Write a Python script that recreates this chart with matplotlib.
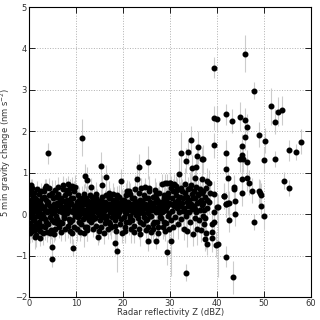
import numpy as np
from matplotlib import pyplot as plt

# dense part of the cloud, 0-38 dBZ, written band by band (1 dBZ wide)
z_dense = [
    0.1, 0.2, 0.2, 0.3, 0.3, 0.4, 0.4, 0.5, 0.5, 0.6, 0.6, 0.7, 0.7, 0.8, 0.8, 0.9, 0.9, 0.1, 0.5, 0.7,
    1.0, 1.1, 1.1, 1.2, 1.3, 1.3, 1.4, 1.5, 1.5, 1.6, 1.7, 1.7, 1.8, 1.9, 1.9, 1.2,
    2.0, 2.1, 2.2, 2.2, 2.3, 2.4, 2.5, 2.5, 2.6, 2.7, 2.8, 2.8, 2.9, 2.3, 2.6,
    3.0, 3.1, 3.2, 3.3, 3.3, 3.4, 3.5, 3.6, 3.6, 3.7, 3.8, 3.9, 3.4, 3.2,
    4.0, 4.1, 4.2, 4.3, 4.4, 4.5, 4.6, 4.7, 4.8, 4.9, 4.2, 4.5, 4.8,
    5.0, 5.1, 5.2, 5.3, 5.4, 5.5, 5.6, 5.7, 5.8, 5.9, 5.3, 5.6, 5.9,
    6.0, 6.1, 6.2, 6.3, 6.4, 6.5, 6.6, 6.7, 6.8, 6.9, 6.2, 6.5, 6.8,
    7.0, 7.1, 7.2, 7.3, 7.4, 7.5, 7.6, 7.7, 7.8, 7.9, 7.2, 7.5, 7.8,
    8.0, 8.1, 8.2, 8.3, 8.4, 8.5, 8.6, 8.7, 8.8, 8.9, 8.3, 8.6, 8.9,
    9.0, 9.1, 9.2, 9.3, 9.4, 9.5, 9.6, 9.7, 9.8, 9.9, 9.2, 9.6, 9.9,
    10.0, 10.1, 10.2, 10.3, 10.4, 10.5, 10.6, 10.7, 10.8, 10.9, 10.3, 10.6, 10.9,
    11.0, 11.1, 11.2, 11.3, 11.4, 11.5, 11.6, 11.7, 11.8, 11.9, 11.2, 11.6, 11.9,
    12.0, 12.1, 12.2, 12.3, 12.4, 12.5, 12.6, 12.7, 12.8, 12.9, 12.3, 12.6, 12.9,
    13.0, 13.1, 13.2, 13.3, 13.4, 13.5, 13.6, 13.7, 13.8, 13.9, 13.2, 13.5, 13.8,
    14.0, 14.1, 14.2, 14.3, 14.4, 14.5, 14.6, 14.7, 14.8, 14.9, 14.3, 14.6, 14.9,
    15.0, 15.1, 15.2, 15.3, 15.4, 15.5, 15.6, 15.7, 15.8, 15.9, 15.2, 15.5, 15.8,
    16.0, 16.1, 16.2, 16.3, 16.4, 16.5, 16.6, 16.7, 16.8, 16.9, 16.3, 16.6, 16.9,
    17.0, 17.1, 17.2, 17.3, 17.4, 17.5, 17.6, 17.7, 17.8, 17.9, 17.2, 17.5, 17.8,
    18.0, 18.1, 18.2, 18.3, 18.4, 18.5, 18.6, 18.7, 18.8, 18.9, 18.3, 18.6, 18.9,
    19.0, 19.1, 19.2, 19.3, 19.4, 19.5, 19.6, 19.7, 19.8, 19.9, 19.2, 19.5, 19.8,
    20.0, 20.1, 20.2, 20.3, 20.4, 20.5, 20.6, 20.7, 20.8, 20.9, 20.3, 20.6, 20.9,
    21.0, 21.1, 21.2, 21.3, 21.4, 21.5, 21.6, 21.7, 21.8, 21.9, 21.2, 21.5, 21.8,
    22.0, 22.1, 22.2, 22.3, 22.4, 22.5, 22.6, 22.7, 22.8, 22.9, 22.3, 22.6, 22.9,
    23.0, 23.1, 23.2, 23.3, 23.4, 23.5, 23.6, 23.7, 23.8, 23.9, 23.2, 23.5, 23.8,
    24.0, 24.1, 24.2, 24.3, 24.4, 24.5, 24.6, 24.7, 24.8, 24.9, 24.3, 24.6, 24.9,
    25.0, 25.1, 25.2, 25.3, 25.4, 25.5, 25.6, 25.7, 25.8, 25.9, 25.2, 25.5, 25.8,
    26.0, 26.1, 26.2, 26.3, 26.4, 26.5, 26.6, 26.7, 26.8, 26.9, 26.3, 26.6, 26.9,
    27.0, 27.1, 27.2, 27.3, 27.4, 27.5, 27.6, 27.7, 27.8, 27.9, 27.2, 27.5, 27.8,
    28.0, 28.1, 28.2, 28.3, 28.4, 28.5, 28.6, 28.7, 28.8, 28.9, 28.3, 28.6, 28.9,
    29.0, 29.1, 29.2, 29.3, 29.4, 29.5, 29.6, 29.7, 29.8, 29.9, 29.2, 29.5, 29.8,
    30.0, 30.1, 30.2, 30.4, 30.5, 30.6, 30.7, 30.8, 30.3, 30.9,
    31.0, 31.1, 31.3, 31.4, 31.5, 31.6, 31.7, 31.8, 31.9, 31.2,
    32.0, 32.1, 32.2, 32.4, 32.5, 32.6, 32.7, 32.8, 32.9, 32.3,
    33.0, 33.1, 33.2, 33.3, 33.5, 33.6, 33.7, 33.8, 33.9, 33.4,
    34.0, 34.1, 34.2, 34.3, 34.4, 34.6, 34.7, 34.8, 34.9, 34.5,
    35.0, 35.1, 35.2, 35.3, 35.5, 35.6, 35.7, 35.8, 35.9, 35.4,
    36.0, 36.1, 36.2, 36.3, 36.4, 36.6, 36.7, 36.8, 36.9, 36.5,
    37.0, 37.1, 37.2, 37.3, 37.5, 37.6, 37.7, 37.8, 37.9, 37.4,
]
g_dense = [
    -0.45, 0.12, -0.21, 0.35, 0.02, -0.33, 0.25, 0.70, -0.08, 0.45, -0.40, 0.18, 0.62, -0.15, 0.30, 0.05, -0.28, 0.22, 0.55, -0.02,
    0.52, -0.12, 0.28, -0.38, 0.08, 0.40, -0.22, 0.15, -0.50, 0.33, -0.05, 0.60, 0.20, -0.30, 0.10, -0.55,
    0.25, -0.18, 0.05, 0.48, -0.40, 0.30, -0.10, 0.15, 0.55, -0.28, 0.38, 0.00, -0.45, -0.58, 0.22,
    -0.05, 0.42, 0.18, -0.32, 0.62, 0.10, -0.20, 0.35, 0.68, -0.42, 0.05, 0.25, -0.12, 0.55,
    0.30, -0.25, 0.08, 0.45, -0.08, 0.20, -0.38, 0.12, 0.52, -0.15, 0.62, -0.45, 0.02,
    0.10, 0.38, -0.20, 0.05, 0.25, -0.35, 0.15, -0.05, 0.42, 0.28, -0.48, 0.58, -0.22,
    -0.12, 0.22, 0.48, -0.30, 0.08, 0.35, -0.18, 0.15, -0.42, 0.05, 0.65, 0.28, 0.40,
    0.18, -0.22, 0.05, 0.60, 0.32, -0.10, 0.45, -0.35, 0.12, 0.25, 0.70, -0.05, 0.58,
    0.02, 0.35, -0.28, 0.15, 0.52, -0.12, 0.25, 0.62, -0.40, 0.08, 0.72, -0.20, 0.40,
    0.28, -0.15, 0.68, 0.05, 0.40, -0.30, 0.18, 0.65, -0.05, 0.22, -0.45, 0.55, 0.10,
    0.12, -0.35, 0.30, -0.08, 0.20, 0.05, -0.20, 0.35, 0.15, -0.42, 0.45, -0.02, 0.25,
    -0.25, 0.18, 0.02, 0.40, -0.12, 0.28, -0.45, 0.10, 0.32, -0.05, 0.22, 0.48, -0.30,
    0.25, -0.08, 0.38, 0.05, -0.30, 0.15, 0.32, -0.15, 0.08, 0.45, -0.38, 0.20, -0.02,
    0.05, 0.30, -0.20, 0.12, 0.42, -0.05, 0.22, -0.35, 0.18, 0.08, 0.65, -0.12, 0.35,
    -0.10, 0.22, 0.40, -0.28, 0.08, 0.30, -0.55, 0.15, -0.02, 0.25, 0.48, 0.02, -0.40,
    0.18, -0.15, 0.05, 0.35, -0.30, 0.20, 0.70, -0.08, 0.28, -0.45, 0.10, 0.42, 0.00,
    0.08, 0.30, -0.22, 0.15, 0.45, -0.05, 0.22, -0.35, 0.12, 0.38, -0.12, 0.25, 0.50,
    0.25, -0.18, 0.05, 0.40, -0.32, 0.18, 0.10, -0.08, 0.30, 0.48, -0.25, 0.15, 0.02,
    0.12, 0.35, -0.15, 0.22, -0.40, 0.05, 0.28, 0.45, -0.05, 0.18, -0.28, 0.38, 0.10,
    -0.02, 0.20, 0.42, -0.25, 0.10, 0.30, -0.12, 0.15, -0.45, 0.25, 0.05, 0.80, 0.35,
    0.22, -0.08, 0.35, 0.05, -0.30, 0.18, 0.45, -0.18, 0.12, 0.28, -0.40, 0.02, 0.55,
    0.10, 0.30, -0.20, 0.15, 0.48, -0.05, 0.22, -0.35, 0.08, 0.38, 0.55, -0.12, 0.25,
    -0.15, 0.18, 0.05, 0.40, -0.28, 0.25, 0.60, -0.02, 0.12, 0.85, -0.42, 0.32, 0.08,
    0.28, -0.10, 0.15, 0.50, -0.35, 0.05, 0.35, -0.20, 0.22, 0.62, 0.00, -0.48, 0.18,
    0.05, 0.32, -0.25, 0.12, 0.45, -0.08, 0.25, 0.65, -0.38, 0.18, 0.02, 0.40, -0.15,
    0.20, -0.12, 0.38, 0.02, -0.30, 0.15, 0.55, -0.05, 0.28, -0.42, 0.10, 0.62, 0.30,
    -0.05, 0.25, 0.10, -0.35, 0.42, 0.18, -0.18, 0.30, 0.58, 0.05, -0.25, 0.15, 0.48,
    0.15, 0.40, -0.20, 0.08, 0.30, -0.45, 0.22, 0.52, -0.08, 0.12, 0.35, -0.30, 0.02,
    0.30, -0.10, 0.20, 0.72, -0.32, 0.08, 0.45, -0.18, 0.25, 0.74, 0.05, 0.38, -0.40,
    0.10, 0.35, -0.22, 0.76, 0.20, -0.05, 0.50, 0.28, -0.35, 0.74, 0.15, 0.42, 0.02,
    0.75, 0.25, -0.15, 0.40, 0.08, 0.55, -0.30, 0.20, 0.62, 0.72,
    0.30, -0.08, 0.45, 0.15, 0.58, -0.25, 0.35, 0.05, 0.22, 0.68,
    0.96, 0.20, 0.42, -0.12, 0.55, 0.28, 0.08, 0.38, -0.35, 0.62,
    0.15, 0.50, 0.72, -0.05, 0.30, 0.42, -0.40, 0.20, 0.60, 0.05,
    0.35, 0.05, 0.62, -0.20, 0.25, 0.48, 0.12, -0.48, 0.40, 0.70,
    0.20, 0.55, -0.10, 0.38, 0.05, 0.65, -0.35, 0.28, 0.45, 0.12,
    0.48, -0.15, 0.30, 0.60, 0.10, -0.38, 0.22, 0.52, -0.05, 0.35,
    0.28, 0.55, -0.25, 0.10, 0.42, 0.62, -0.45, 0.15, 0.35, -0.10,
]
e_dense = [
    0.25, 0.20, 0.30, 0.22, 0.18, 0.28, 0.20, 0.15, 0.30, 0.25, 0.27, 0.20, 0.22, 0.30, 0.18, 0.25, 0.30, 0.20, 0.25, 0.28,
    0.20, 0.28, 0.22, 0.30, 0.20, 0.25, 0.28, 0.20, 0.30, 0.22, 0.25, 0.20, 0.28, 0.25, 0.20, 0.30,
    0.22, 0.25, 0.30, 0.20, 0.28, 0.22, 0.25, 0.30, 0.20, 0.25, 0.22, 0.28, 0.30, 0.20, 0.25,
    0.25, 0.20, 0.28, 0.30, 0.22, 0.25, 0.30, 0.20, 0.18, 0.25, 0.28, 0.22, 0.30, 0.20,
    0.22, 0.30, 0.25, 0.20, 0.28, 0.35, 0.22, 0.25, 0.30, 0.20, 0.25, 0.28, 0.22,
    0.28, 0.22, 0.30, 0.25, 0.20, 0.28, 0.35, 0.22, 0.25, 0.30, 0.20, 0.25, 0.28,
    0.25, 0.30, 0.22, 0.28, 0.20, 0.25, 0.30, 0.35, 0.22, 0.28, 0.25, 0.20, 0.30,
    0.30, 0.25, 0.20, 0.28, 0.22, 0.35, 0.25, 0.30, 0.20, 0.28, 0.22, 0.25, 0.30,
    0.22, 0.28, 0.30, 0.25, 0.20, 0.28, 0.35, 0.22, 0.30, 0.25, 0.20, 0.28, 0.25,
    0.28, 0.25, 0.22, 0.30, 0.28, 0.20, 0.25, 0.30, 0.35, 0.22, 0.28, 0.25, 0.20,
    0.25, 0.30, 0.28, 0.22, 0.35, 0.25, 0.20, 0.30, 0.28, 0.22, 0.25, 0.30, 0.28,
    0.30, 0.22, 0.25, 0.28, 0.20, 0.30, 0.35, 0.25, 0.22, 0.28, 0.30, 0.25, 0.22,
    0.22, 0.28, 0.30, 0.25, 0.35, 0.20, 0.28, 0.25, 0.30, 0.22, 0.28, 0.25, 0.30,
    0.28, 0.25, 0.22, 0.30, 0.28, 0.35, 0.25, 0.20, 0.28, 0.30, 0.22, 0.25, 0.28,
    0.25, 0.30, 0.28, 0.22, 0.25, 0.30, 0.20, 0.35, 0.28, 0.25, 0.30, 0.22, 0.28,
    0.30, 0.22, 0.28, 0.25, 0.30, 0.20, 0.25, 0.35, 0.22, 0.28, 0.25, 0.30, 0.28,
    0.22, 0.28, 0.25, 0.30, 0.22, 0.28, 0.35, 0.25, 0.30, 0.22, 0.28, 0.25, 0.30,
    0.28, 0.25, 0.30, 0.22, 0.28, 0.25, 0.30, 0.35, 0.20, 0.28, 0.25, 0.30, 0.22,
    0.25, 0.30, 0.22, 0.28, 0.25, 0.35, 0.30, 0.22, 0.28, 0.25, 0.30, 0.20, 0.28,
    0.30, 0.25, 0.28, 0.22, 0.30, 0.25, 0.35, 0.28, 0.25, 0.30, 0.22, 0.28, 0.25,
    0.22, 0.30, 0.25, 0.28, 0.35, 0.22, 0.30, 0.25, 0.28, 0.22, 0.30, 0.25, 0.28,
    0.28, 0.25, 0.30, 0.22, 0.28, 0.30, 0.25, 0.35, 0.22, 0.28, 0.25, 0.30, 0.22,
    0.25, 0.30, 0.28, 0.25, 0.22, 0.30, 0.35, 0.28, 0.25, 0.40, 0.28, 0.22, 0.30,
    0.30, 0.22, 0.28, 0.30, 0.25, 0.22, 0.28, 0.35, 0.30, 0.25, 0.22, 0.28, 0.25,
    0.25, 0.30, 0.22, 0.28, 0.30, 0.25, 0.28, 0.22, 0.35, 0.30, 0.25, 0.28, 0.22,
    0.28, 0.25, 0.30, 0.22, 0.35, 0.28, 0.25, 0.30, 0.22, 0.28, 0.25, 0.30, 0.28,
    0.30, 0.28, 0.25, 0.30, 0.22, 0.28, 0.35, 0.25, 0.30, 0.22, 0.28, 0.25, 0.30,
    0.25, 0.30, 0.28, 0.22, 0.35, 0.25, 0.30, 0.28, 0.22, 0.30, 0.25, 0.28, 0.30,
    0.28, 0.25, 0.30, 0.25, 0.28, 0.22, 0.30, 0.35, 0.25, 0.22, 0.28, 0.30, 0.25,
    0.30, 0.28, 0.25, 0.22, 0.30, 0.35, 0.28, 0.25, 0.30, 0.25, 0.22, 0.30, 0.28,
    0.30, 0.35, 0.28, 0.40, 0.25, 0.30, 0.35, 0.28, 0.30, 0.25,
    0.35, 0.30, 0.28, 0.40, 0.30, 0.35, 0.28, 0.30, 0.40, 0.25,
    0.40, 0.30, 0.35, 0.28, 0.30, 0.40, 0.35, 0.30, 0.28, 0.35,
    0.30, 0.35, 0.40, 0.28, 0.35, 0.30, 0.40, 0.35, 0.30, 0.28,
    0.35, 0.30, 0.40, 0.35, 0.30, 0.28, 0.35, 0.30, 0.40, 0.35,
    0.30, 0.40, 0.35, 0.30, 0.28, 0.35, 0.40, 0.30, 0.35, 0.30,
    0.35, 0.30, 0.40, 0.28, 0.35, 0.30, 0.35, 0.40, 0.30, 0.35,
    0.30, 0.35, 0.40, 0.30, 0.35, 0.28, 0.40, 0.30, 0.35, 0.30,
]

# scattered points (outliers and the sparse part above 38 dBZ)
z_out = [4.0, 4.8, 4.8, 11.3, 9.4, 11.9, 12.4, 15.4, 16.3, 18.3, 18.75, 23.4, 25.3, 25.4, 26.9,
         29.4, 30.3, 32.3, 33.4, 33.9, 34.5, 33.4, 34.6, 36.0, 35.6, 36.9, 35.2, 36.7, 35.8, 36.8,
         37.8, 38.2, 38.9, 38.9, 37.4, 37.9, 39.4, 39.4, 39.9, 38.5, 38.3, 39.0,
         39.3, 39.3, 39.9, 39.3, 42.0, 42.0, 42.0, 42.4, 43.2, 44.9, 45.9, 45.9, 46.35, 46.0,
         45.4, 44.9, 45.5, 45.3, 46.35, 47.8, 48.9, 50.3, 49.9, 51.4, 52.3, 52.9, 53.9, 52.3,
         54.3, 55.3, 55.3, 56.8, 57.9, 47.8, 49.9, 49.4, 48.9, 49.2, 49.4, 46.4, 46.8, 47.4,
         45.4, 45.4, 43.5, 43.5, 41.5, 42.3, 42.0, 43.9, 43.9, 42.5, 39.8, 40.3, 41.9, 43.4,
         41.5, 41.8, 42.5, 40.1, 39.3]
g_out = [1.47, -0.80, -1.08, 1.85, -0.81, 0.92, 0.83, 1.15, 0.89, -0.69, -0.90, 1.14, 1.25, -0.65, -0.64,
         -0.92, -0.64, 1.48, -1.41, 1.49, 1.78, 1.29, 1.12, 1.61, 1.13, 1.32, 0.88, 0.85, 1.40, 1.32,
         0.81, 0.76, -0.25, -0.57, -0.59, -0.73, 0.49, 0.04, 0.18, 0.50, 0.30, -0.42,
         3.54, 2.32, 2.30, 1.66, 2.41, 1.48, 1.09, 0.87, 2.25, 2.35, 3.87, 2.27, 2.11, 1.86,
         1.64, 1.32, 1.32, 1.43, 1.25, 2.98, 1.92, 1.77, 1.31, 2.60, 2.23, 2.47, 2.51, 1.33,
         0.81, 1.54, 0.63, 1.50, 1.75, -0.19, -0.05, 0.20, 0.55, 0.52, 0.46, 0.87, 0.76, 0.57,
         0.84, 0.50, 0.65, 0.61, 0.44, 0.28, 0.24, 0.32, 0.01, -0.13, -0.74, -0.71, -1.03, -1.53,
         0.43, 0.24, 0.27, 0.18, -0.20]
e_out = [0.25, 0.25, 0.20, 0.45, 0.20, 0.30, 0.30, 0.35, 0.30, 0.30, 0.50, 0.30, 0.40, 0.25, 0.20,
         0.30, 0.85, 0.50, 0.20, 0.30, 0.35, 0.30, 0.30, 0.40, 0.30, 0.35, 0.30, 0.30, 0.30, 0.30,
         0.30, 0.30, 0.30, 0.35, 0.30, 0.25, 0.30, 0.30, 0.30, 0.30, 0.30, 0.30,
         0.25, 0.30, 0.30, 0.30, 0.25, 0.30, 0.30, 0.30, 0.30, 0.35, 0.45, 0.30, 0.30, 0.30,
         0.30, 0.30, 0.30, 0.30, 0.30, 0.20, 0.30, 0.30, 0.30, 0.45, 0.30, 0.35, 0.35, 0.20,
         0.20, 0.25, 0.20, 0.20, 0.30, 0.20, 0.30, 0.30, 0.30, 0.30, 0.30, 0.30, 0.30, 0.30,
         0.30, 0.30, 0.30, 0.30, 0.30, 0.30, 0.30, 0.30, 0.30, 0.30, 0.30, 0.80, 0.25, 0.40,
         0.30, 0.30, 0.30, 0.30, 0.30]

z = np.array(z_dense + z_out)
g = np.array(g_dense + g_out)
e = np.array(e_dense + e_out)

plt.rcParams['font.size'] = 6

fig = plt.figure(figsize=(3.2, 3.2), dpi=100)
ax = fig.add_axes([0.091, 0.072, 0.881, 0.906])

ax.errorbar(z, g, yerr=e, fmt='o', color='black', ms=3.3, mec='black',
            ecolor='#cccccc', elinewidth=0.8, capsize=0, zorder=3)

ax.set_xlim(0, 60)
ax.set_ylim(-2, 5)
ax.set_xticks([0, 10, 20, 30, 40, 50, 60])
ax.set_yticks([-2, -1, 0, 1, 2, 3, 4, 5])
ax.grid(True, linestyle=':', color='#b0b0b0', linewidth=0.7)
ax.set_axisbelow(True)
ax.tick_params(direction='in', top=True, right=True, length=4, width=0.6, pad=1.5,
               labelcolor='#333333')
for s in ax.spines.values():
    s.set_linewidth(0.8)

ax.set_xlabel('Radar reflectivity Z (dBZ)', labelpad=0, color='#333333')
ax.set_ylabel('5 min gravity change (nm s$^{-2}$)', color='#333333')
ax.yaxis.set_label_coords(-0.057, 0.5)

fig.savefig('out.png', dpi=100)
